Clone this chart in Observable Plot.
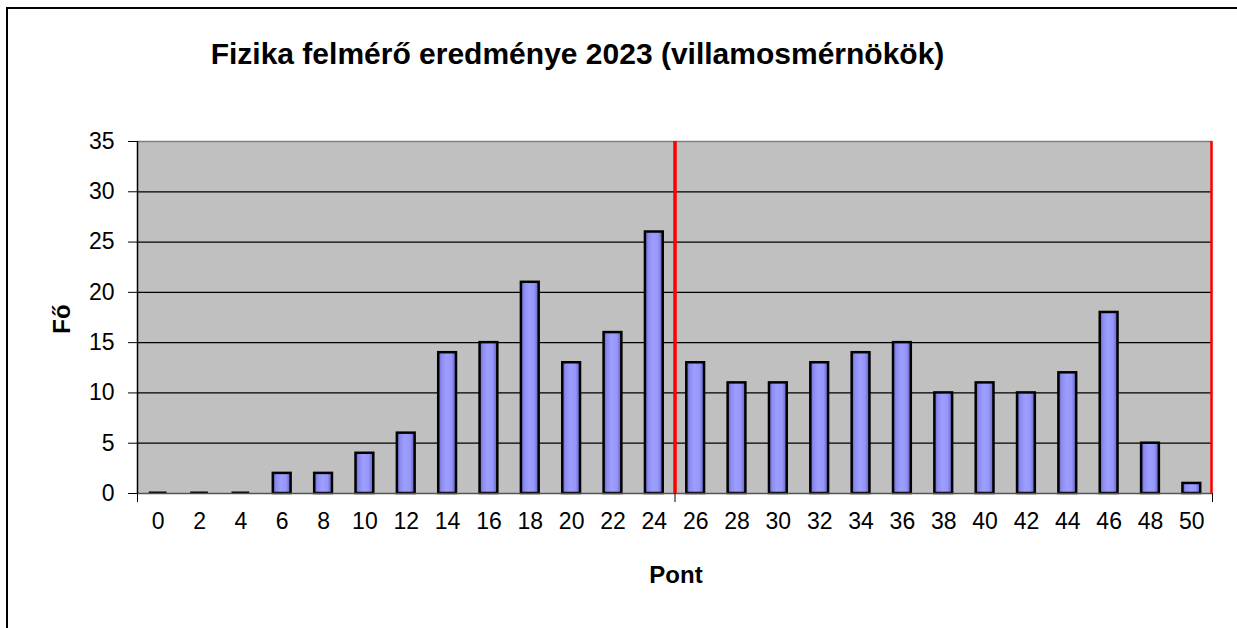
<!DOCTYPE html>
<html><head><meta charset="utf-8">
<script src="https://cdn.jsdelivr.net/npm/d3@7"></script>
<script src="https://cdn.jsdelivr.net/npm/@observablehq/plot@0.6"></script>
<style>
body{margin:0;background:#fff;overflow:hidden;}
#wrap{position:relative;width:1237px;height:628px;font-family:"Liberation Sans",Arial,sans-serif;color:#000;}
#frame{position:absolute;left:6px;top:7px;width:1300px;height:700px;border-top:2px solid #000;border-left:2px solid #000;}
#chart{position:absolute;left:0;top:0;}
#title{position:absolute;left:0;width:1155px;text-align:center;top:37px;font-weight:bold;font-size:30px;white-space:nowrap;}
#xlabel{position:absolute;left:0;width:1352px;text-align:center;top:561px;font-weight:bold;font-size:24px;}
#ylabel{position:absolute;left:62px;top:319px;font-weight:bold;font-size:24px;transform:translate(-50%,-50%) rotate(-90deg);white-space:nowrap;}
</style></head>
<body>
<div id="wrap">
  <div id="frame"></div>
  <div id="chart"></div>
  <div id="title">Fizika felmérő eredménye 2023 (villamosmérnökök)</div>
  <div id="ylabel">Fő</div>
  <div id="xlabel">Pont</div>
</div>
<script>
const points = [0,2,4,6,8,10,12,14,16,18,20,22,24,26,28,30,32,34,36,38,40,42,44,46,48,50];
const counts = [0,0,0,2,2,4,6,14,15,21,13,16,26,13,11,11,13,14,15,10,11,10,12,18,5,1];
const yTicks = [0,5,10,15,20,25,30,35];
const gridLines = [5,10,15,20,25,30];
const xDomain = [-1, 51];
const yDomain = [0, 35];
const axisTickMarks = [-1, 25, 51];
const passLine = [25];
const endLine = [51];
const barHalfWidth = 0.43;

const data = points.map((p, i) => ({pont: p, n: counts[i]}));

const defs = () => {
  const d = d3.create("svg:defs");
  const g = d.append("linearGradient").attr("id", "barGrad").attr("x1", 0).attr("x2", 1).attr("y1", 0).attr("y2", 0);
  [["0%","#5c5cb8"],["18%","#8c8cf0"],["45%","#9e9eff"],["75%","#9696fa"],["100%","#5c5cb8"]]
    .forEach(([o,c]) => g.append("stop").attr("offset", o).attr("stop-color", c));
  return d.node();
};

const chart = Plot.plot({
  width: 1237,
  height: 628,
  marginLeft: 137,
  marginRight: 25,
  marginTop: 141,
  marginBottom: 135,
  style: {fontFamily: "'Liberation Sans', Arial, sans-serif", fontSize: "23px", color: "#000", background: "transparent"},
  x: {domain: xDomain, ticks: points, tickSize: 0, tickPadding: 19, tickFormat: d => String(d), label: null},
  y: {domain: yDomain, ticks: yTicks, tickSize: 9, tickPadding: 14, label: null},
  marks: [
    defs,
    Plot.frame({fill: "#C0C0C0", stroke: null}),
    Plot.ruleY(gridLines, {stroke: "#000", strokeWidth: 1.2}),
    Plot.ruleY([35], {stroke: "#808080", strokeWidth: 1.5}),
    Plot.rectY(data.filter(d => d.n > 0), {x1: d => d.pont - barHalfWidth, x2: d => d.pont + barHalfWidth, y: "n", fill: "url(#barGrad)", stroke: "#000", strokeWidth: 2.5}),
    Plot.ruleY(data.filter(d => d.n === 0), {x1: d => d.pont - barHalfWidth, x2: d => d.pont + barHalfWidth, y: "n", stroke: "#000", strokeWidth: 2, dy: -1}),
    Plot.ruleY([0], {stroke: "#555", strokeWidth: 1.5}),
    Plot.ruleX([-1], {stroke: "#000", strokeWidth: 1.5}),
    Plot.ruleX(axisTickMarks, {y1: 0, y2: 0, insetBottom: -9, stroke: "#000", strokeWidth: 1}),
    Plot.ruleX(passLine, {stroke: "#FF0000", strokeWidth: 3.5}),
    Plot.ruleX(endLine, {stroke: "#FF0000", strokeWidth: 2.5, dx: -1})
  ]
});
document.getElementById("chart").appendChild(chart);
</script>
</body></html>
